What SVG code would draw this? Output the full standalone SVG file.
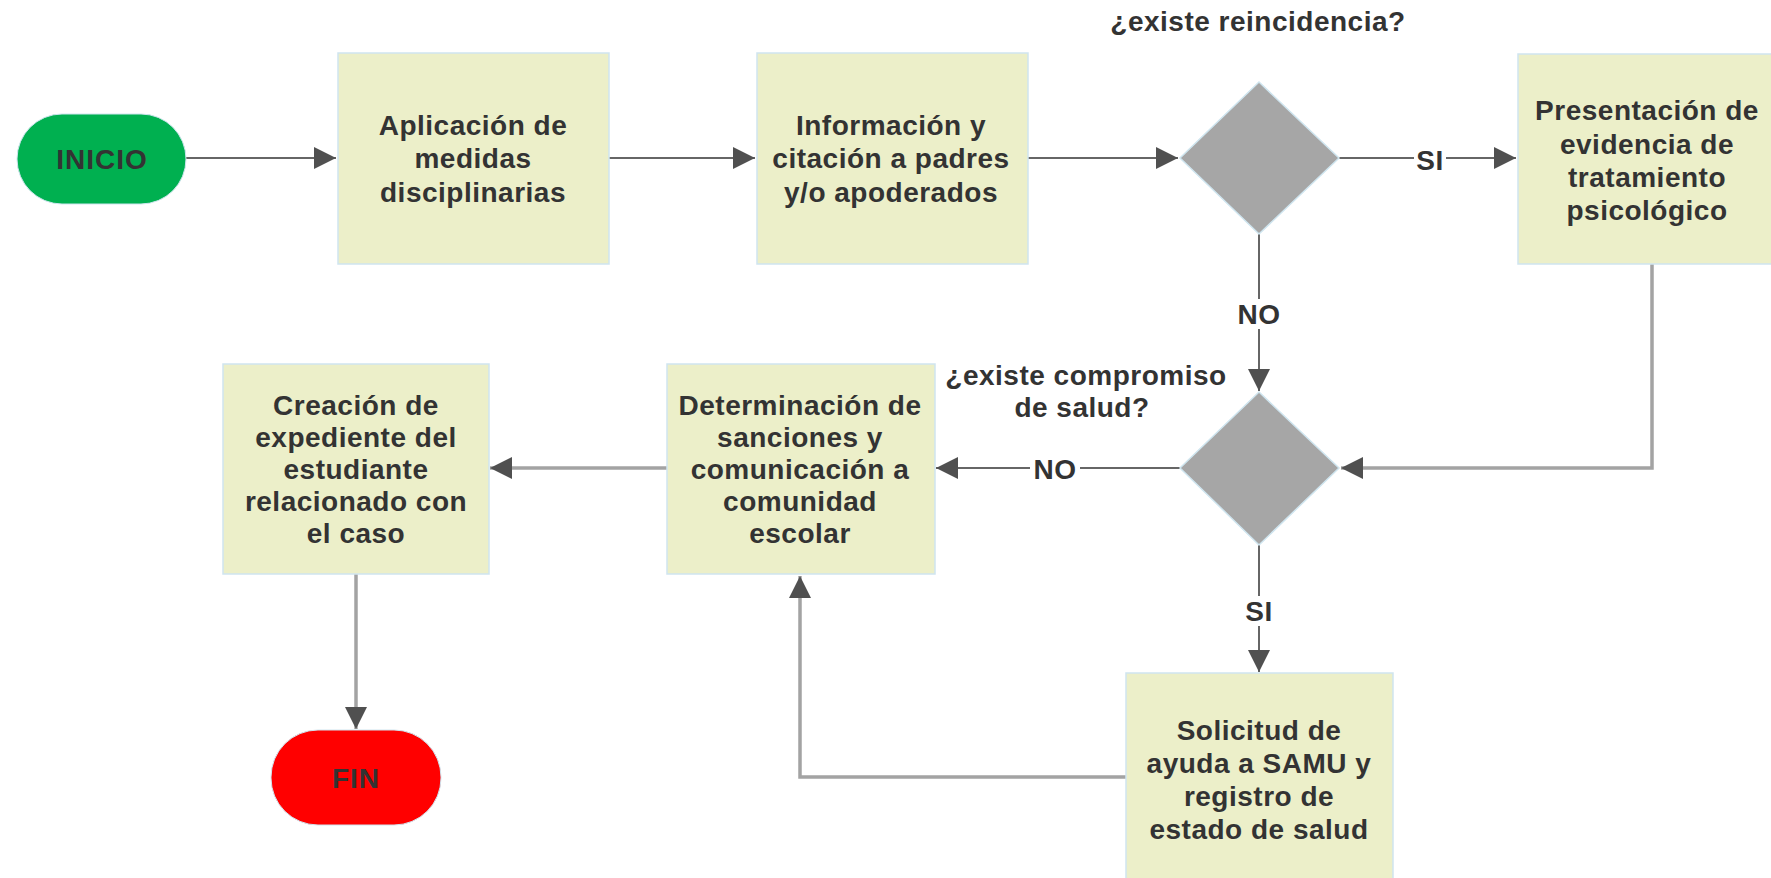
<svg xmlns="http://www.w3.org/2000/svg" width="1771" height="878" viewBox="0 0 1771 878">
<style>
text{font-family:"Liberation Sans",Arial,sans-serif;font-weight:bold;font-size:28px;fill:#333;text-anchor:middle;letter-spacing:0.5px}
.box{fill:#ECEFC9;stroke:#CFE5EF;stroke-width:1.5}
.dia{fill:#A6A6A6;stroke:#CFE5EF;stroke-width:1.5}
.dk{fill:none;stroke:#666;stroke-width:2}
.lt{fill:none;stroke:#A3A3A3;stroke-width:3.5}
.lbg{fill:#fff}
</style>
<defs>
<marker id="ah" markerUnits="userSpaceOnUse" markerWidth="22" markerHeight="22" refX="22" refY="11" orient="auto">
<path d="M0,0 L22,11 L0,22 z" fill="#505050"/>
</marker>
</defs>
<g id="connectors">
<path class="dk" d="M186,158 L336,158" marker-end="url(#ah)"/>
<path class="dk" d="M609,158 L755,158" marker-end="url(#ah)"/>
<path class="dk" d="M1028,158 L1178,158" marker-end="url(#ah)"/>
<path class="dk" d="M1339,158 L1516,158" marker-end="url(#ah)"/>
<path class="dk" d="M1259,234 L1259,391" marker-end="url(#ah)"/>
<path class="lt" d="M1652,264 L1652,468 L1341,468" marker-end="url(#ah)"/>
<path class="dk" d="M1180,468 L936,468" marker-end="url(#ah)"/>
<path class="dk" d="M1259,545 L1259,672" marker-end="url(#ah)"/>
<path class="lt" d="M1126,777 L800,777 L800,576" marker-end="url(#ah)"/>
<path class="lt" d="M667,468 L490,468" marker-end="url(#ah)"/>
<path class="lt" d="M356,574 L356,729" marker-end="url(#ah)"/>
<rect class="lbg" x="1414" y="145" width="32" height="28"/>
<text x="1430" y="170">SI</text>
<rect class="lbg" x="1234" y="299" width="50" height="30"/>
<text x="1259" y="324">NO</text>
<rect class="lbg" x="1030" y="454" width="50" height="30"/>
<text x="1055" y="479">NO</text>
<rect class="lbg" x="1243" y="596" width="32" height="30"/>
<text x="1259" y="621">SI</text>
</g>
<g id="inicio">
<rect x="17" y="114" width="169" height="90" rx="45" fill="#00B050" stroke="#CFE5EF" stroke-width="1"/>
<text x="102" y="169" style="letter-spacing:1px">INICIO</text>
</g>
<g id="aplicacion">
<rect class="box" x="338" y="53" width="271" height="211"/>
<text x="473" y="135">Aplicación de</text>
<text x="473" y="168">medidas</text>
<text x="473" y="202">disciplinarias</text>
</g>
<g id="informacion">
<rect class="box" x="757" y="53" width="271" height="211"/>
<text x="891" y="135">Información y</text>
<text x="891" y="168">citación a padres</text>
<text x="891" y="202">y/o apoderados</text>
</g>
<g id="reincidencia">
<text x="1258" y="31">¿existe reincidencia?</text>
<polygon class="dia" points="1259,82 1339,158 1259,234 1180,158"/>
</g>
<g id="presentacion">
<rect class="box" x="1518" y="54" width="271" height="210"/>
<text x="1647" y="120">Presentación de</text>
<text x="1647" y="154">evidencia de</text>
<text x="1647" y="187">tratamiento</text>
<text x="1647" y="220">psicológico</text>
</g>
<g id="compromiso">
<text x="1086" y="385">¿existe compromiso</text>
<text x="1082" y="417">de salud?</text>
<polygon class="dia" points="1259,392 1339,468 1259,545 1180,468"/>
</g>
<g id="determinacion">
<rect class="box" x="667" y="364" width="268" height="210"/>
<text x="800" y="415">Determinación de</text>
<text x="800" y="447">sanciones y</text>
<text x="800" y="479">comunicación a</text>
<text x="800" y="511">comunidad</text>
<text x="800" y="543">escolar</text>
</g>
<g id="creacion">
<rect class="box" x="223" y="364" width="266" height="210"/>
<text x="356" y="415">Creación de</text>
<text x="356" y="447">expediente del</text>
<text x="356" y="479">estudiante</text>
<text x="356" y="511">relacionado con</text>
<text x="356" y="543">el caso</text>
</g>
<g id="samu">
<rect class="box" x="1126" y="673" width="267" height="215"/>
<text x="1259" y="740">Solicitud de</text>
<text x="1259" y="773">ayuda a SAMU y</text>
<text x="1259" y="806">registro de</text>
<text x="1259" y="839">estado de salud</text>
</g>
<g id="fin">
<rect x="271" y="730" width="170" height="95" rx="47" fill="#FF0000" stroke="#CFE5EF" stroke-width="1"/>
<text x="356" y="788" style="letter-spacing:1px">FIN</text>
</g>
</svg>
